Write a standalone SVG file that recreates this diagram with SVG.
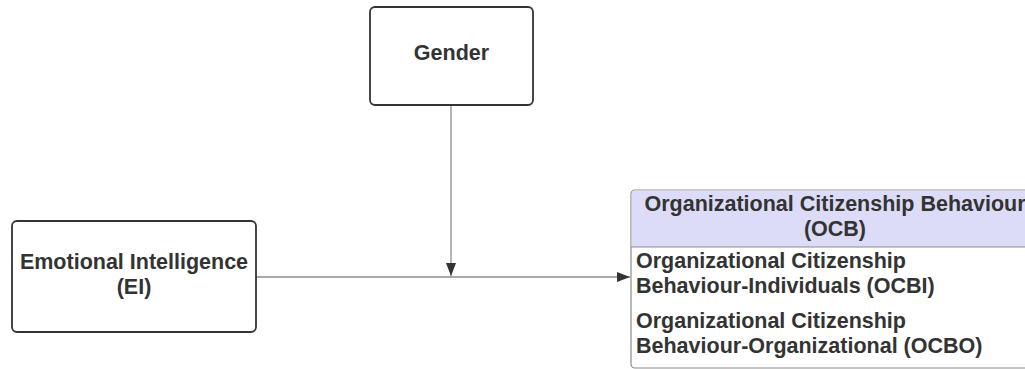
<svg xmlns="http://www.w3.org/2000/svg" width="1025" height="369" viewBox="0 0 1025 369">
  <style>
    .box { fill: #ffffff; stroke: #333333; stroke-width: 1.8; }
    .ocb { fill: #ffffff; stroke: #8a8a8a; stroke-width: 1.2; }
    .hdr { fill: #dcdcf8; }
    .div { stroke: #8a8a8a; stroke-width: 1.2; }
    .t { font-family: "Liberation Sans", Arial, sans-serif; font-weight: bold; font-size: 21.5px; fill: #333333; }
    .c { text-anchor: middle; }
    .conn { stroke: #8c8c8c; stroke-width: 1.3; fill: none; }
  </style>
  <defs>
    <marker id="arrow" markerWidth="14" markerHeight="10" refX="13" refY="5" orient="auto" markerUnits="userSpaceOnUse">
      <path d="M0,0 L13,5 L0,10 Z" fill="#333333"/>
    </marker>
  </defs>
  <rect width="1025" height="369" fill="#ffffff"/>

  <g id="connectors">
    <line class="conn" x1="256" y1="277" x2="630" y2="277" marker-end="url(#arrow)"/>
    <line class="conn" x1="451" y1="105" x2="451" y2="276" marker-end="url(#arrow)"/>
  </g>

  <g id="gender">
    <rect class="box" x="370" y="7" width="163" height="98" rx="5"/>
    <text class="t c" x="451.5" y="60">Gender</text>
  </g>

  <g id="ei">
    <rect class="box" x="12" y="221" width="244" height="111" rx="5"/>
    <text class="t c" x="134" y="269">Emotional Intelligence</text>
    <text class="t c" x="134" y="294">(EI)</text>
  </g>

  <g id="ocb">
    <rect class="ocb" x="631" y="190" width="408" height="178" rx="4"/>
    <path class="hdr" d="M635,190.6 H1038.4 V247 H631.6 V194 Q631.6,190.6 635,190.6 Z"/>
    <line class="div" x1="631" y1="247" x2="1039" y2="247"/>
    <text class="t c" x="835" y="211">Organizational Citizenship Behaviour</text>
    <text class="t c" x="835" y="236">(OCB)</text>
    <text class="t" x="636" y="268">Organizational Citizenship</text>
    <text class="t" x="636" y="293">Behaviour-Individuals (OCBI)</text>
    <text class="t" x="636" y="328">Organizational Citizenship</text>
    <text class="t" x="636" y="353">Behaviour-Organizational (OCBO)</text>
  </g>
</svg>
